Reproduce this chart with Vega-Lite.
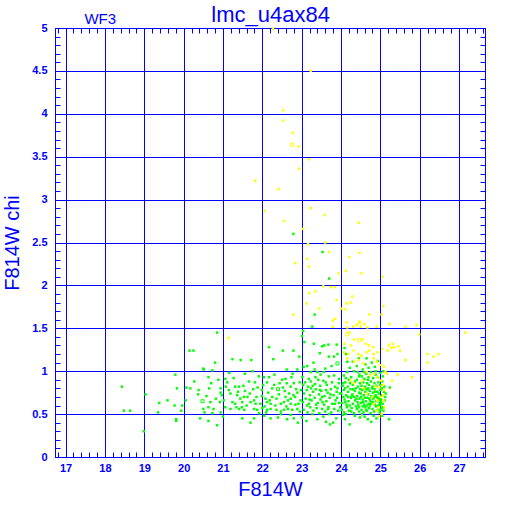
{
"$schema": "https://vega.github.io/schema/vega-lite/v6.json",
"width": 430, "height": 429,
"autosize": "none",
"padding": {"left": 55, "top": 28, "right": 27, "bottom": 55},
"background": "white",
"config": {"view": {"stroke": "#0000ff", "strokeWidth": 1}},
"datasets": {"pts": [
{"mag":20.15,"chi":1.24,"cls":"g"},{"mag":20.25,"chi":1.24,"cls":"g"},{"mag":20.50,"chi":1.03,"cls":"g"},{"mag":19.79,"chi":0.96,"cls":"g"},{"mag":20.27,"chi":0.88,"cls":"g"},{"mag":18.43,"chi":0.82,"cls":"g"},{"mag":19.83,"chi":0.80,"cls":"g"},{"mag":20.07,"chi":0.81,"cls":"g"},{"mag":20.17,"chi":0.80,"cls":"g"},{"mag":20.38,"chi":0.78,"cls":"g"},{"mag":20.37,"chi":0.73,"cls":"g"},{"mag":19.03,"chi":0.73,"cls":"g"},{"mag":20.48,"chi":0.65,"cls":"g","o":1},{"mag":20.05,"chi":0.66,"cls":"g"},{"mag":19.59,"chi":0.66,"cls":"g"},{"mag":19.38,"chi":0.63,"cls":"g"},{"mag":19.77,"chi":0.60,"cls":"g"},{"mag":19.96,"chi":0.60,"cls":"g"},{"mag":20.50,"chi":0.56,"cls":"g"},{"mag":19.94,"chi":0.54,"cls":"g"},{"mag":19.35,"chi":0.52,"cls":"g"},{"mag":18.48,"chi":0.54,"cls":"g"},{"mag":18.64,"chi":0.54,"cls":"g"},{"mag":20.42,"chi":0.45,"cls":"g"},{"mag":19.81,"chi":0.44,"cls":"g"},{"mag":19.81,"chi":0.42,"cls":"g"},{"mag":18.99,"chi":0.30,"cls":"g"},
{"mag":20.85,"chi":1.45,"cls":"g"},{"mag":22.17,"chi":1.28,"cls":"g"},{"mag":22.52,"chi":1.24,"cls":"g"},{"mag":22.79,"chi":1.24,"cls":"g"},{"mag":22.94,"chi":1.17,"cls":"g"},{"mag":20.80,"chi":1.10,"cls":"g"},{"mag":21.24,"chi":1.14,"cls":"g"},{"mag":21.45,"chi":1.13,"cls":"g"},{"mag":21.72,"chi":1.13,"cls":"g"},{"mag":22.28,"chi":1.14,"cls":"g"},{"mag":20.51,"chi":1.02,"cls":"g"},{"mag":20.73,"chi":1.01,"cls":"g"},{"mag":21.16,"chi":0.98,"cls":"g"},{"mag":21.56,"chi":0.97,"cls":"g"},{"mag":21.75,"chi":1.00,"cls":"g"},{"mag":21.91,"chi":0.94,"cls":"g"},{"mag":22.04,"chi":0.93,"cls":"g"},{"mag":22.17,"chi":0.93,"cls":"g"},{"mag":22.31,"chi":0.96,"cls":"g"},{"mag":22.62,"chi":1.02,"cls":"g"},{"mag":22.77,"chi":0.97,"cls":"g"},{"mag":22.89,"chi":1.02,"cls":"g"},{"mag":20.63,"chi":0.93,"cls":"g"},{"mag":21.06,"chi":0.91,"cls":"g"},{"mag":21.11,"chi":0.87,"cls":"g"},{"mag":21.81,"chi":0.87,"cls":"g"},{"mag":22.12,"chi":0.87,"cls":"g"},{"mag":22.59,"chi":0.91,"cls":"g"},{"mag":22.44,"chi":0.86,"cls":"g"},{"mag":22.62,"chi":0.86,"cls":"g"},{"mag":22.80,"chi":0.86,"cls":"g"},{"mag":22.95,"chi":0.87,"cls":"g"},{"mag":20.65,"chi":0.80,"cls":"g"},{"mag":20.94,"chi":0.80,"cls":"g"},{"mag":21.07,"chi":0.82,"cls":"g"},{"mag":21.31,"chi":0.82,"cls":"g"},{"mag":21.41,"chi":0.82,"cls":"g"},{"mag":21.56,"chi":0.77,"cls":"g"},{"mag":21.77,"chi":0.79,"cls":"g"},{"mag":21.99,"chi":0.78,"cls":"g"},{"mag":22.25,"chi":0.80,"cls":"g"},{"mag":22.40,"chi":0.79,"cls":"g","o":1},{"mag":22.52,"chi":0.81,"cls":"g"},{"mag":22.72,"chi":0.82,"cls":"g"},{"mag":22.89,"chi":0.75,"cls":"g"},{"mag":20.94,"chi":0.75,"cls":"g"},{"mag":20.97,"chi":0.72,"cls":"g"},{"mag":21.19,"chi":0.74,"cls":"g"},{"mag":21.36,"chi":0.72,"cls":"g"},{"mag":21.53,"chi":0.70,"cls":"g"},{"mag":21.62,"chi":0.70,"cls":"g"},{"mag":21.99,"chi":0.71,"cls":"g"},{"mag":22.08,"chi":0.68,"cls":"g"},{"mag":22.25,"chi":0.70,"cls":"g"},{"mag":22.36,"chi":0.68,"cls":"g"},{"mag":22.59,"chi":0.70,"cls":"g"},{"mag":22.72,"chi":0.68,"cls":"g"},{"mag":22.79,"chi":0.72,"cls":"g"},{"mag":20.68,"chi":0.64,"cls":"g"},{"mag":20.92,"chi":0.64,"cls":"g"},{"mag":21.24,"chi":0.64,"cls":"g"},{"mag":21.31,"chi":0.62,"cls":"g"},{"mag":21.44,"chi":0.68,"cls":"g"},{"mag":21.49,"chi":0.64,"cls":"g"},{"mag":21.70,"chi":0.64,"cls":"g"},{"mag":21.79,"chi":0.66,"cls":"g"},{"mag":21.83,"chi":0.62,"cls":"g"},{"mag":22.12,"chi":0.64,"cls":"g"},{"mag":22.21,"chi":0.62,"cls":"g"},{"mag":22.47,"chi":0.62,"cls":"g"},{"mag":22.55,"chi":0.64,"cls":"g"},{"mag":22.65,"chi":0.66,"cls":"g"},{"mag":22.72,"chi":0.62,"cls":"g"},{"mag":22.84,"chi":0.61,"cls":"g"},{"mag":22.92,"chi":0.62,"cls":"g"},{"mag":20.63,"chi":0.58,"cls":"g"},{"mag":20.76,"chi":0.56,"cls":"g"},{"mag":21.06,"chi":0.58,"cls":"g"},{"mag":21.19,"chi":0.56,"cls":"g"},{"mag":21.41,"chi":0.56,"cls":"g"},{"mag":21.48,"chi":0.58,"cls":"g"},{"mag":21.54,"chi":0.55,"cls":"g"},{"mag":21.79,"chi":0.56,"cls":"g"},{"mag":21.87,"chi":0.55,"cls":"g"},{"mag":22.00,"chi":0.57,"cls":"g"},{"mag":22.12,"chi":0.55,"cls":"g"},{"mag":22.21,"chi":0.56,"cls":"g"},{"mag":22.36,"chi":0.55,"cls":"g"},{"mag":22.47,"chi":0.53,"cls":"g"},{"mag":22.55,"chi":0.55,"cls":"g"},{"mag":22.65,"chi":0.56,"cls":"g"},{"mag":22.76,"chi":0.55,"cls":"g"},{"mag":22.89,"chi":0.56,"cls":"g"},{"mag":22.95,"chi":0.53,"cls":"g"},{"mag":20.53,"chi":0.52,"cls":"g"},{"mag":20.73,"chi":0.51,"cls":"g"},{"mag":20.94,"chi":0.52,"cls":"g"},{"mag":21.92,"chi":0.51,"cls":"g"},{"mag":22.10,"chi":0.52,"cls":"g"},{"mag":22.47,"chi":0.50,"cls":"g"},{"mag":22.72,"chi":0.49,"cls":"g"},{"mag":21.49,"chi":0.45,"cls":"g"},{"mag":21.79,"chi":0.45,"cls":"g"},{"mag":22.21,"chi":0.45,"cls":"g"},{"mag":22.40,"chi":0.46,"cls":"g"},{"mag":22.63,"chi":0.44,"cls":"g"},{"mag":22.80,"chi":0.45,"cls":"g"},{"mag":20.63,"chi":0.42,"cls":"g"},{"mag":20.85,"chi":0.37,"cls":"g"},
{"mag":20.58,"chi":0.71,"cls":"g"},{"mag":20.70,"chi":0.86,"cls":"g"},{"mag":20.82,"chi":0.68,"cls":"g"},{"mag":20.88,"chi":0.90,"cls":"g"},{"mag":21.02,"chi":0.66,"cls":"g"},{"mag":21.15,"chi":0.78,"cls":"g"},{"mag":21.27,"chi":0.92,"cls":"g"},{"mag":21.34,"chi":0.58,"cls":"g"},{"mag":21.38,"chi":0.76,"cls":"g"},{"mag":21.52,"chi":0.83,"cls":"g"},{"mag":21.60,"chi":0.60,"cls":"g"},{"mag":21.66,"chi":0.88,"cls":"g"},{"mag":21.68,"chi":0.74,"cls":"g"},{"mag":21.85,"chi":0.70,"cls":"g"},{"mag":21.88,"chi":0.81,"cls":"g"},{"mag":21.95,"chi":0.62,"cls":"g"},{"mag":22.02,"chi":0.84,"cls":"g"},{"mag":22.06,"chi":0.59,"cls":"g"},{"mag":22.15,"chi":0.75,"cls":"g"},{"mag":22.19,"chi":0.66,"cls":"g"},{"mag":22.30,"chi":0.84,"cls":"g"},{"mag":22.33,"chi":0.60,"cls":"g"},{"mag":22.42,"chi":0.73,"cls":"g"},{"mag":22.50,"chi":0.90,"cls":"g"},{"mag":22.57,"chi":0.77,"cls":"g"},{"mag":22.61,"chi":0.59,"cls":"g"},{"mag":22.68,"chi":0.74,"cls":"g"},{"mag":22.74,"chi":0.93,"cls":"g"},{"mag":22.83,"chi":0.70,"cls":"g"},{"mag":22.86,"chi":0.79,"cls":"g"},{"mag":22.97,"chi":0.66,"cls":"g"},{"mag":22.98,"chi":0.78,"cls":"g"},{"mag":21.00,"chi":0.47,"cls":"g"},{"mag":21.70,"chi":0.40,"cls":"g"},{"mag":22.05,"chi":0.48,"cls":"g"},{"mag":22.90,"chi":0.40,"cls":"g"},
{"mag":22.79,"chi":2.60,"cls":"g"},{"mag":23.53,"chi":2.39,"cls":"g"},{"mag":23.70,"chi":2.08,"cls":"g"},{"mag":23.33,"chi":1.66,"cls":"g"},
{"mag":23.01,"chi":0.46,"cls":"g"},{"mag":23.12,"chi":0.42,"cls":"g"},{"mag":23.40,"chi":0.44,"cls":"g"},{"mag":23.55,"chi":0.47,"cls":"g"},{"mag":23.72,"chi":0.38,"cls":"g"},{"mag":23.80,"chi":0.40,"cls":"g"},{"mag":23.88,"chi":0.45,"cls":"g"},{"mag":23.62,"chi":0.41,"cls":"g"},
{"mag":23.05,"chi":0.55,"cls":"g"},{"mag":23.15,"chi":0.52,"cls":"g"},{"mag":23.22,"chi":0.58,"cls":"g"},{"mag":23.30,"chi":0.54,"cls":"g"},{"mag":23.38,"chi":0.57,"cls":"g"},{"mag":23.45,"chi":0.51,"cls":"g"},{"mag":23.52,"chi":0.56,"cls":"g"},{"mag":23.60,"chi":0.53,"cls":"g"},{"mag":23.68,"chi":0.58,"cls":"g"},{"mag":23.75,"chi":0.52,"cls":"g"},{"mag":23.83,"chi":0.56,"cls":"g"},{"mag":23.93,"chi":0.54,"cls":"g"},{"mag":23.27,"chi":0.50,"cls":"g"},{"mag":23.70,"chi":0.50,"cls":"g"},
{"mag":23.03,"chi":0.64,"cls":"g"},{"mag":23.10,"chi":0.68,"cls":"g"},{"mag":23.18,"chi":0.62,"cls":"g"},{"mag":23.25,"chi":0.66,"cls":"g"},{"mag":23.33,"chi":0.69,"cls":"g"},{"mag":23.41,"chi":0.63,"cls":"g"},{"mag":23.48,"chi":0.67,"cls":"g"},{"mag":23.57,"chi":0.61,"cls":"g"},{"mag":23.63,"chi":0.65,"cls":"g"},{"mag":23.71,"chi":0.69,"cls":"g"},{"mag":23.78,"chi":0.62,"cls":"g"},{"mag":23.86,"chi":0.66,"cls":"g"},{"mag":23.95,"chi":0.63,"cls":"g"},{"mag":23.14,"chi":0.60,"cls":"g"},{"mag":23.52,"chi":0.70,"cls":"g"},{"mag":23.90,"chi":0.69,"cls":"g"},
{"mag":23.06,"chi":0.74,"cls":"g"},{"mag":23.13,"chi":0.78,"cls":"g"},{"mag":23.21,"chi":0.72,"cls":"g"},{"mag":23.29,"chi":0.76,"cls":"g"},{"mag":23.36,"chi":0.79,"cls":"g"},{"mag":23.44,"chi":0.73,"cls":"g"},{"mag":23.50,"chi":0.77,"cls":"g"},{"mag":23.58,"chi":0.71,"cls":"g"},{"mag":23.66,"chi":0.75,"cls":"g"},{"mag":23.74,"chi":0.79,"cls":"g"},{"mag":23.81,"chi":0.72,"cls":"g"},{"mag":23.89,"chi":0.76,"cls":"g"},{"mag":23.97,"chi":0.74,"cls":"g"},{"mag":23.24,"chi":0.80,"cls":"g"},{"mag":23.62,"chi":0.78,"cls":"g"},
{"mag":23.04,"chi":0.84,"cls":"g"},{"mag":23.16,"chi":0.82,"cls":"g"},{"mag":23.23,"chi":0.88,"cls":"g"},{"mag":23.34,"chi":0.85,"cls":"g"},{"mag":23.47,"chi":0.83,"cls":"g"},{"mag":23.55,"chi":0.89,"cls":"g"},{"mag":23.64,"chi":0.84,"cls":"g"},{"mag":23.77,"chi":0.87,"cls":"g"},{"mag":23.85,"chi":0.82,"cls":"g"},{"mag":23.94,"chi":0.86,"cls":"g"},{"mag":23.42,"chi":0.90,"cls":"g"},
{"mag":23.02,"chi":0.93,"cls":"g"},{"mag":23.18,"chi":0.91,"cls":"g"},{"mag":23.23,"chi":0.99,"cls":"g"},{"mag":23.35,"chi":0.93,"cls":"g"},{"mag":23.40,"chi":0.99,"cls":"g"},{"mag":23.56,"chi":0.99,"cls":"g"},{"mag":23.69,"chi":0.94,"cls":"g"},{"mag":23.82,"chi":0.95,"cls":"g"},{"mag":23.95,"chi":0.91,"cls":"g"},{"mag":23.48,"chi":0.96,"cls":"g"},
{"mag":23.05,"chi":1.05,"cls":"g"},{"mag":23.14,"chi":1.06,"cls":"g"},{"mag":23.30,"chi":1.10,"cls":"g"},{"mag":23.69,"chi":1.17,"cls":"g"},{"mag":23.82,"chi":1.17,"cls":"g"},{"mag":23.91,"chi":1.09,"cls":"g","o":1},{"mag":23.91,"chi":1.20,"cls":"g"},{"mag":23.46,"chi":1.21,"cls":"g"},{"mag":23.60,"chi":1.03,"cls":"g"},
{"mag":23.04,"chi":1.47,"cls":"g"},{"mag":23.01,"chi":1.41,"cls":"g"},{"mag":23.07,"chi":1.34,"cls":"g"},{"mag":23.31,"chi":1.32,"cls":"g"},{"mag":23.27,"chi":1.52,"cls":"g"},{"mag":23.52,"chi":1.29,"cls":"g"},{"mag":23.57,"chi":1.30,"cls":"g"},{"mag":23.68,"chi":1.31,"cls":"g"},{"mag":23.89,"chi":1.31,"cls":"g"},
{"mag":23.09,"chi":0.87,"cls":"g"},{"mag":23.20,"chi":0.67,"cls":"g"},{"mag":23.28,"chi":0.83,"cls":"g"},{"mag":23.37,"chi":0.61,"cls":"g"},{"mag":23.46,"chi":0.78,"cls":"g"},{"mag":23.53,"chi":0.64,"cls":"g"},{"mag":23.61,"chi":0.87,"cls":"g"},{"mag":23.67,"chi":0.56,"cls":"g"},{"mag":23.73,"chi":0.73,"cls":"g"},{"mag":23.84,"chi":0.62,"cls":"g"},{"mag":23.91,"chi":0.80,"cls":"g"},{"mag":23.98,"chi":0.58,"cls":"g"},{"mag":24.05,"chi":0.86,"cls":"g"},{"mag":24.11,"chi":0.64,"cls":"g"},{"mag":24.18,"chi":0.70,"cls":"g"},{"mag":24.26,"chi":0.53,"cls":"g"},{"mag":24.31,"chi":0.79,"cls":"g"},{"mag":24.39,"chi":0.68,"cls":"g"},{"mag":24.45,"chi":0.58,"cls":"g"},{"mag":24.51,"chi":0.70,"cls":"g"},{"mag":24.56,"chi":0.64,"cls":"g"},{"mag":24.61,"chi":0.69,"cls":"g"},{"mag":24.64,"chi":0.55,"cls":"g"},{"mag":24.69,"chi":0.80,"cls":"g"},{"mag":24.72,"chi":0.68,"cls":"g"},{"mag":24.75,"chi":0.62,"cls":"g"},{"mag":24.81,"chi":0.64,"cls":"g"},{"mag":24.87,"chi":0.76,"cls":"g"},{"mag":24.91,"chi":0.70,"cls":"g"},{"mag":24.97,"chi":0.67,"cls":"g"},{"mag":25.01,"chi":0.64,"cls":"g"},{"mag":25.04,"chi":0.80,"cls":"g"},{"mag":25.07,"chi":0.58,"cls":"g"},{"mag":25.12,"chi":0.70,"cls":"g"},{"mag":24.53,"chi":0.50,"cls":"g"},{"mag":24.83,"chi":0.48,"cls":"g"},{"mag":25.00,"chi":0.55,"cls":"g"},{"mag":24.47,"chi":0.96,"cls":"g"},{"mag":24.88,"chi":1.00,"cls":"g"},{"mag":23.33,"chi":1.02,"cls":"g"},{"mag":23.76,"chi":1.06,"cls":"g"},
{"mag":24.22,"chi":0.38,"cls":"g"},{"mag":24.48,"chi":0.46,"cls":"g"},{"mag":24.10,"chi":0.44,"cls":"g"},{"mag":24.35,"chi":0.48,"cls":"g"},{"mag":24.05,"chi":0.49,"cls":"g"},
{"mag":24.02,"chi":0.55,"cls":"g"},{"mag":24.08,"chi":0.52,"cls":"g"},{"mag":24.15,"chi":0.58,"cls":"g"},{"mag":24.20,"chi":0.54,"cls":"g"},{"mag":24.27,"chi":0.57,"cls":"g"},{"mag":24.33,"chi":0.51,"cls":"g"},{"mag":24.40,"chi":0.56,"cls":"g"},{"mag":24.46,"chi":0.53,"cls":"g"},{"mag":24.12,"chi":0.50,"cls":"g"},{"mag":24.38,"chi":0.59,"cls":"g"},
{"mag":24.03,"chi":0.63,"cls":"g"},{"mag":24.09,"chi":0.67,"cls":"g"},{"mag":24.14,"chi":0.61,"cls":"g"},{"mag":24.19,"chi":0.65,"cls":"g"},{"mag":24.25,"chi":0.69,"cls":"g"},{"mag":24.30,"chi":0.62,"cls":"g"},{"mag":24.36,"chi":0.66,"cls":"g"},{"mag":24.42,"chi":0.64,"cls":"g"},{"mag":24.47,"chi":0.68,"cls":"g"},{"mag":24.06,"chi":0.70,"cls":"g"},{"mag":24.22,"chi":0.60,"cls":"g"},{"mag":24.33,"chi":0.70,"cls":"g"},{"mag":24.44,"chi":0.61,"cls":"g"},
{"mag":24.01,"chi":0.74,"cls":"g"},{"mag":24.07,"chi":0.78,"cls":"g"},{"mag":24.13,"chi":0.72,"cls":"g"},{"mag":24.18,"chi":0.76,"cls":"g"},{"mag":24.24,"chi":0.79,"cls":"g"},{"mag":24.29,"chi":0.73,"cls":"g"},{"mag":24.35,"chi":0.77,"cls":"g"},{"mag":24.41,"chi":0.71,"cls":"g"},{"mag":24.46,"chi":0.75,"cls":"g"},{"mag":24.10,"chi":0.80,"cls":"g"},{"mag":24.27,"chi":0.71,"cls":"g"},{"mag":24.38,"chi":0.80,"cls":"g"},{"mag":24.49,"chi":0.79,"cls":"g"},
{"mag":24.04,"chi":0.83,"cls":"g"},{"mag":24.11,"chi":0.87,"cls":"g"},{"mag":24.17,"chi":0.82,"cls":"g"},{"mag":24.23,"chi":0.86,"cls":"g"},{"mag":24.30,"chi":0.84,"cls":"g"},{"mag":24.36,"chi":0.88,"cls":"g"},{"mag":24.43,"chi":0.82,"cls":"g"},{"mag":24.48,"chi":0.86,"cls":"g"},{"mag":24.20,"chi":0.90,"cls":"g"},{"mag":24.40,"chi":0.90,"cls":"g"},
{"mag":24.07,"chi":0.95,"cls":"g"},{"mag":24.16,"chi":0.99,"cls":"g"},{"mag":24.26,"chi":0.93,"cls":"g"},{"mag":24.33,"chi":1.00,"cls":"g"},{"mag":24.42,"chi":0.99,"cls":"g"},{"mag":24.12,"chi":0.92,"cls":"g"},{"mag":24.46,"chi":0.94,"cls":"g"},
{"mag":24.16,"chi":1.11,"cls":"g"},{"mag":24.30,"chi":1.11,"cls":"g"},{"mag":24.40,"chi":1.06,"cls":"g"},{"mag":24.13,"chi":1.20,"cls":"g"},{"mag":24.09,"chi":1.27,"cls":"g"},{"mag":24.22,"chi":1.04,"cls":"g"},{"mag":24.45,"chi":1.15,"cls":"g"},
{"mag":24.77,"chi":0.41,"cls":"g"},{"mag":24.60,"chi":0.47,"cls":"g"},{"mag":24.90,"chi":0.45,"cls":"g"},{"mag":25.05,"chi":0.48,"cls":"g"},{"mag":24.68,"chi":0.44,"cls":"g"},{"mag":25.22,"chi":0.44,"cls":"g"},
{"mag":24.52,"chi":0.55,"cls":"g"},{"mag":24.57,"chi":0.52,"cls":"g"},{"mag":24.62,"chi":0.58,"cls":"g"},{"mag":24.66,"chi":0.54,"cls":"g"},{"mag":24.71,"chi":0.57,"cls":"g"},{"mag":24.75,"chi":0.51,"cls":"g"},{"mag":24.80,"chi":0.56,"cls":"g"},{"mag":24.84,"chi":0.53,"cls":"g"},{"mag":24.89,"chi":0.59,"cls":"g"},{"mag":24.93,"chi":0.55,"cls":"g"},{"mag":24.98,"chi":0.52,"cls":"g"},{"mag":25.03,"chi":0.57,"cls":"g"},{"mag":25.08,"chi":0.54,"cls":"g"},{"mag":24.55,"chi":0.59,"cls":"g"},{"mag":24.73,"chi":0.60,"cls":"g"},{"mag":24.95,"chi":0.60,"cls":"g"},
{"mag":24.51,"chi":0.63,"cls":"g"},{"mag":24.55,"chi":0.67,"cls":"g"},{"mag":24.59,"chi":0.61,"cls":"g"},{"mag":24.63,"chi":0.65,"cls":"g"},{"mag":24.67,"chi":0.69,"cls":"g"},{"mag":24.70,"chi":0.62,"cls":"g"},{"mag":24.74,"chi":0.66,"cls":"g"},{"mag":24.78,"chi":0.64,"cls":"g"},{"mag":24.82,"chi":0.68,"cls":"g"},{"mag":24.86,"chi":0.61,"cls":"g"},{"mag":24.90,"chi":0.65,"cls":"g"},{"mag":24.94,"chi":0.69,"cls":"g"},{"mag":24.98,"chi":0.63,"cls":"g"},{"mag":25.02,"chi":0.67,"cls":"g"},{"mag":25.06,"chi":0.62,"cls":"g"},{"mag":25.11,"chi":0.66,"cls":"g"},{"mag":24.65,"chi":0.60,"cls":"g"},{"mag":24.85,"chi":0.70,"cls":"g"},{"mag":25.00,"chi":0.60,"cls":"g"},
{"mag":24.50,"chi":0.74,"cls":"g"},{"mag":24.54,"chi":0.78,"cls":"g"},{"mag":24.58,"chi":0.72,"cls":"g"},{"mag":24.62,"chi":0.76,"cls":"g"},{"mag":24.66,"chi":0.79,"cls":"g"},{"mag":24.69,"chi":0.73,"cls":"g"},{"mag":24.73,"chi":0.77,"cls":"g"},{"mag":24.77,"chi":0.71,"cls":"g"},{"mag":24.81,"chi":0.75,"cls":"g"},{"mag":24.85,"chi":0.79,"cls":"g"},{"mag":24.88,"chi":0.72,"cls":"g"},{"mag":24.92,"chi":0.76,"cls":"g"},{"mag":24.96,"chi":0.74,"cls":"g"},{"mag":25.00,"chi":0.78,"cls":"g"},{"mag":25.04,"chi":0.72,"cls":"g"},{"mag":25.09,"chi":0.76,"cls":"g"},{"mag":25.14,"chi":0.74,"cls":"g"},{"mag":24.60,"chi":0.80,"cls":"g"},{"mag":24.79,"chi":0.80,"cls":"g"},
{"mag":24.52,"chi":0.83,"cls":"g"},{"mag":24.57,"chi":0.87,"cls":"g"},{"mag":24.61,"chi":0.82,"cls":"g"},{"mag":24.66,"chi":0.86,"cls":"g"},{"mag":24.71,"chi":0.84,"cls":"g"},{"mag":24.76,"chi":0.88,"cls":"g"},{"mag":24.80,"chi":0.82,"cls":"g"},{"mag":24.85,"chi":0.86,"cls":"g"},{"mag":24.90,"chi":0.83,"cls":"g"},{"mag":24.95,"chi":0.87,"cls":"g"},{"mag":25.00,"chi":0.84,"cls":"g"},{"mag":25.05,"chi":0.88,"cls":"g"},{"mag":25.10,"chi":0.82,"cls":"g"},{"mag":25.24,"chi":0.81,"cls":"g"},{"mag":24.68,"chi":0.90,"cls":"g"},
{"mag":24.53,"chi":0.94,"cls":"g"},{"mag":24.59,"chi":0.91,"cls":"g"},{"mag":24.64,"chi":0.97,"cls":"g"},{"mag":24.70,"chi":0.93,"cls":"g"},{"mag":24.76,"chi":0.99,"cls":"g"},{"mag":24.82,"chi":0.92,"cls":"g"},{"mag":24.88,"chi":0.96,"cls":"g"},{"mag":24.94,"chi":0.93,"cls":"g"},{"mag":25.00,"chi":0.98,"cls":"g"},{"mag":25.06,"chi":0.94,"cls":"g"},
{"mag":24.55,"chi":1.02,"cls":"g"},{"mag":24.62,"chi":1.08,"cls":"g"},{"mag":24.70,"chi":1.04,"cls":"g"},{"mag":24.78,"chi":1.10,"cls":"g"},{"mag":24.86,"chi":1.05,"cls":"g"},{"mag":24.94,"chi":1.12,"cls":"g"},{"mag":25.08,"chi":1.00,"cls":"g"},{"mag":24.65,"chi":1.15,"cls":"g"},{"mag":24.58,"chi":0.99,"cls":"g"},
{"mag":22.27,"chi":4.99,"cls":"y"},{"mag":23.23,"chi":4.50,"cls":"y"},{"mag":22.53,"chi":4.04,"cls":"y"},{"mag":22.53,"chi":3.92,"cls":"y"},{"mag":22.77,"chi":3.78,"cls":"y"},{"mag":22.75,"chi":3.64,"cls":"y","o":1},{"mag":22.92,"chi":3.62,"cls":"y"},{"mag":23.18,"chi":3.47,"cls":"y"},{"mag":22.93,"chi":3.36,"cls":"y"},{"mag":21.82,"chi":3.22,"cls":"y"},{"mag":22.41,"chi":3.12,"cls":"y"},{"mag":23.23,"chi":2.90,"cls":"y"},{"mag":23.58,"chi":2.82,"cls":"y"},{"mag":22.06,"chi":2.87,"cls":"y"},{"mag":22.56,"chi":2.75,"cls":"y"},{"mag":24.45,"chi":2.73,"cls":"y"},{"mag":23.04,"chi":2.66,"cls":"y"},{"mag":23.16,"chi":2.48,"cls":"y"},{"mag":23.60,"chi":2.50,"cls":"y"},{"mag":23.70,"chi":2.39,"cls":"y"},{"mag":24.47,"chi":2.38,"cls":"y"},{"mag":24.21,"chi":2.33,"cls":"y"},{"mag":22.84,"chi":2.26,"cls":"y"},{"mag":23.14,"chi":2.31,"cls":"y"},{"mag":23.18,"chi":2.22,"cls":"y"},{"mag":23.94,"chi":2.14,"cls":"y"},{"mag":24.12,"chi":2.17,"cls":"y"},{"mag":24.52,"chi":2.14,"cls":"y"},{"mag":25.06,"chi":2.10,"cls":"y"},{"mag":23.55,"chi":1.99,"cls":"y"},{"mag":23.74,"chi":1.98,"cls":"y"},{"mag":23.84,"chi":1.98,"cls":"y"},{"mag":23.19,"chi":1.91,"cls":"y"},{"mag":23.35,"chi":1.93,"cls":"y"},{"mag":24.29,"chi":1.87,"cls":"y"},{"mag":23.89,"chi":1.83,"cls":"y"},{"mag":23.12,"chi":1.79,"cls":"y"},{"mag":24.14,"chi":1.79,"cls":"y"},{"mag":24.24,"chi":1.80,"cls":"y"},{"mag":25.08,"chi":1.76,"cls":"y"},{"mag":23.45,"chi":1.73,"cls":"y"},{"mag":24.01,"chi":1.73,"cls":"y"},{"mag":24.11,"chi":1.72,"cls":"y"},{"mag":22.79,"chi":1.66,"cls":"y"},{"mag":24.72,"chi":1.66,"cls":"y"},{"mag":25.03,"chi":1.66,"cls":"y"},{"mag":23.85,"chi":1.61,"cls":"y"},{"mag":23.79,"chi":1.59,"cls":"y"},{"mag":24.14,"chi":1.57,"cls":"y"},{"mag":24.47,"chi":1.58,"cls":"y"},{"mag":24.48,"chi":1.56,"cls":"y"},{"mag":24.60,"chi":1.55,"cls":"y"},{"mag":25.23,"chi":1.55,"cls":"y"},{"mag":25.64,"chi":1.52,"cls":"y"},{"mag":25.92,"chi":1.54,"cls":"y"},{"mag":23.79,"chi":1.52,"cls":"y"},{"mag":24.16,"chi":1.51,"cls":"y"},{"mag":24.31,"chi":1.52,"cls":"y"},{"mag":24.40,"chi":1.54,"cls":"y"},{"mag":24.50,"chi":1.52,"cls":"y"},{"mag":24.67,"chi":1.51,"cls":"y"},{"mag":24.91,"chi":1.52,"cls":"y"},{"mag":25.99,"chi":1.43,"cls":"y"},{"mag":27.16,"chi":1.45,"cls":"y"},{"mag":21.14,"chi":1.39,"cls":"y"},
{"mag":24.16,"chi":1.43,"cls":"y","o":1},{"mag":24.22,"chi":1.45,"cls":"y"},{"mag":24.46,"chi":1.36,"cls":"y","o":1},{"mag":24.33,"chi":1.37,"cls":"y"},{"mag":24.55,"chi":1.37,"cls":"y"},{"mag":24.09,"chi":1.32,"cls":"y"},{"mag":24.25,"chi":1.30,"cls":"y"},{"mag":24.63,"chi":1.32,"cls":"y"},{"mag":24.71,"chi":1.30,"cls":"y"},{"mag":24.82,"chi":1.28,"cls":"y"},{"mag":24.07,"chi":1.22,"cls":"y"},{"mag":24.19,"chi":1.20,"cls":"y"},{"mag":24.32,"chi":1.24,"cls":"y"},{"mag":24.44,"chi":1.20,"cls":"y"},{"mag":24.52,"chi":1.18,"cls":"y"},{"mag":24.65,"chi":1.22,"cls":"y"},{"mag":24.72,"chi":1.24,"cls":"y"},{"mag":24.83,"chi":1.20,"cls":"y"},{"mag":24.93,"chi":1.22,"cls":"y"},{"mag":25.05,"chi":1.26,"cls":"y"},{"mag":25.22,"chi":1.30,"cls":"y"},{"mag":25.35,"chi":1.28,"cls":"y"},{"mag":25.19,"chi":1.24,"cls":"y"},{"mag":24.16,"chi":1.15,"cls":"y"},{"mag":24.33,"chi":1.11,"cls":"y"},{"mag":24.45,"chi":1.13,"cls":"y"},{"mag":24.58,"chi":1.09,"cls":"y"},{"mag":24.83,"chi":1.15,"cls":"y"},{"mag":24.91,"chi":1.11,"cls":"y"},{"mag":25.00,"chi":1.07,"cls":"y"},{"mag":25.09,"chi":1.05,"cls":"y"},{"mag":25.13,"chi":0.99,"cls":"y"},{"mag":25.17,"chi":0.97,"cls":"y"},{"mag":25.30,"chi":0.89,"cls":"y"},{"mag":24.24,"chi":0.89,"cls":"y"},{"mag":24.33,"chi":0.86,"cls":"y"},{"mag":24.54,"chi":0.89,"cls":"y"},{"mag":24.65,"chi":0.99,"cls":"y"},{"mag":24.74,"chi":0.95,"cls":"y"},{"mag":24.84,"chi":0.97,"cls":"y"},{"mag":24.93,"chi":0.93,"cls":"y"},{"mag":25.02,"chi":0.89,"cls":"y"},{"mag":25.06,"chi":0.84,"cls":"y"},{"mag":24.58,"chi":0.80,"cls":"y"},{"mag":24.66,"chi":0.74,"cls":"y"},{"mag":24.79,"chi":0.70,"cls":"y"},{"mag":24.92,"chi":0.66,"cls":"y"},{"mag":25.00,"chi":0.70,"cls":"y"},{"mag":24.96,"chi":0.58,"cls":"y"},{"mag":24.83,"chi":0.62,"cls":"y"},{"mag":24.92,"chi":0.54,"cls":"y"},{"mag":24.88,"chi":0.82,"cls":"y"},{"mag":25.31,"chi":1.32,"cls":"y"},{"mag":25.28,"chi":1.27,"cls":"y"},{"mag":25.46,"chi":1.29,"cls":"y"},{"mag":25.50,"chi":1.24,"cls":"y"},{"mag":25.64,"chi":1.13,"cls":"y"},{"mag":26.20,"chi":1.20,"cls":"y"},{"mag":26.35,"chi":1.17,"cls":"y"},{"mag":26.48,"chi":1.20,"cls":"y"},{"mag":26.20,"chi":1.10,"cls":"y"},{"mag":25.44,"chi":0.96,"cls":"y"},{"mag":25.81,"chi":0.93,"cls":"y"},{"mag":25.07,"chi":0.72,"cls":"y"},{"mag":25.10,"chi":0.58,"cls":"y"},{"mag":25.03,"chi":0.50,"cls":"y"},{"mag":24.97,"chi":0.47,"cls":"y"},{"mag":25.08,"chi":0.66,"cls":"y"},{"mag":25.10,"chi":0.78,"cls":"y"},{"mag":24.98,"chi":0.81,"cls":"y"}
]},
"layer": [
{"data": {"name": "pts"}, "transform": [{"filter": "datum.o != 1"}],
 "mark": {"type": "point", "shape": "square", "filled": true, "size": 6, "opacity": 1, "strokeWidth": 0},
 "encoding": {
  "x": {"field": "mag", "type": "quantitative", "scale": {"domain": [16.73, 27.66], "nice": false, "zero": false},
   "axis": {"orient": "bottom", "values": [16.8,17,17.2,17.4,17.6,17.8,18,18.2,18.4,18.6,18.8,19,19.2,19.4,19.6,19.8,20,20.2,20.4,20.6,20.8,21,21.2,21.4,21.6,21.8,22,22.2,22.4,22.6,22.8,23,23.2,23.4,23.6,23.8,24,24.2,24.4,24.6,24.8,25,25.2,25.4,25.6,25.8,26,26.2,26.4,26.6,26.8,27,27.2,27.4,27.6],
    "format": "~g", "labelExpr": "abs(datum.value - round(datum.value)) < 0.001 ? datum.label : ''",
    "labelFont": "Liberation Sans", "labelFontSize": 11, "labelFontWeight": "bold", "labelColor": "#0000ff", "labelPadding": 10, "labelOverlap": false, "labelFlush": false, "labelBound": false,
    "tickSize": -5, "tickColor": "#0000ff", "tickWidth": 1,
    "grid": true, "gridColor": "#0000ff", "gridWidth": 1, "gridOpacity": {"condition": {"test": "abs(datum.value - round(datum.value)) < 0.001", "value": 1}, "value": 0},
    "domain": false, "title": "F814W", "titleFont": "Liberation Sans", "titleFontSize": 20, "titleFontWeight": "normal", "titleColor": "#0000ff", "titlePadding": 6}},
  "y": {"field": "chi", "type": "quantitative", "scale": {"domain": [0, 5], "nice": false, "zero": false},
   "axis": {"orient": "left", "values": [0,0.1,0.2,0.3,0.4,0.5,0.6,0.7,0.8,0.9,1,1.1,1.2,1.3,1.4,1.5,1.6,1.7,1.8,1.9,2,2.1,2.2,2.3,2.4,2.5,2.6,2.7,2.8,2.9,3,3.1,3.2,3.3,3.4,3.5,3.6,3.7,3.8,3.9,4,4.1,4.2,4.3,4.4,4.5,4.6,4.7,4.8,4.9,5],
    "format": "~g", "labelExpr": "abs(datum.value*2 - round(datum.value*2)) < 0.001 ? datum.label : ''",
    "labelFont": "Liberation Sans", "labelFontSize": 11, "labelFontWeight": "bold", "labelColor": "#0000ff", "labelPadding": 13, "labelOverlap": false, "labelFlush": false, "labelBound": false,
    "tickSize": -5, "tickColor": "#0000ff", "tickWidth": 1,
    "grid": true, "gridColor": "#0000ff", "gridWidth": 1, "gridOpacity": {"condition": {"test": "abs(datum.value*2 - round(datum.value*2)) < 0.001", "value": 1}, "value": 0},
    "domain": false, "title": "F814W chi", "titleFont": "Liberation Sans", "titleFontSize": 20, "titleFontWeight": "normal", "titleColor": "#0000ff", "titlePadding": 9}},
  "color": {"field": "cls", "type": "nominal", "scale": {"domain": ["g", "y"], "range": ["#00ff00", "#ffff00"]}, "legend": null}
 }},
{"data": {"name": "pts"}, "transform": [{"filter": "datum.o == 1"}],
 "mark": {"type": "point", "shape": "square", "filled": false, "size": 9, "opacity": 1, "strokeWidth": 1},
 "encoding": {
  "x": {"field": "mag", "type": "quantitative",
   "axis": {"orient": "top", "values": [16.8,17,17.2,17.4,17.6,17.8,18,18.2,18.4,18.6,18.8,19,19.2,19.4,19.6,19.8,20,20.2,20.4,20.6,20.8,21,21.2,21.4,21.6,21.8,22,22.2,22.4,22.6,22.8,23,23.2,23.4,23.6,23.8,24,24.2,24.4,24.6,24.8,25,25.2,25.4,25.6,25.8,26,26.2,26.4,26.6,26.8,27,27.2,27.4,27.6],
    "labels": false, "tickSize": -5, "tickColor": "#0000ff", "tickWidth": 1, "grid": false, "domain": false, "title": null}},
  "y": {"field": "chi", "type": "quantitative",
   "axis": {"orient": "right", "values": [0,0.1,0.2,0.3,0.4,0.5,0.6,0.7,0.8,0.9,1,1.1,1.2,1.3,1.4,1.5,1.6,1.7,1.8,1.9,2,2.1,2.2,2.3,2.4,2.5,2.6,2.7,2.8,2.9,3,3.1,3.2,3.3,3.4,3.5,3.6,3.7,3.8,3.9,4,4.1,4.2,4.3,4.4,4.5,4.6,4.7,4.8,4.9,5],
    "labels": false, "tickSize": -5, "tickColor": "#0000ff", "tickWidth": 1, "grid": false, "domain": false, "title": null}},
  "color": {"field": "cls", "type": "nominal", "legend": null}
 }},
{"data": {"values": [{"t": "WF3", "xm": 17.88, "yc": 5.11, "fs": "s"}, {"t": "lmc_u4ax84", "xm": 22.21, "yc": 5.15, "fs": "l"}]},
 "mark": {"type": "text", "font": "Liberation Sans", "color": "#0000ff", "baseline": "middle", "align": "center", "clip": false},
 "encoding": {
  "x": {"field": "xm", "type": "quantitative", "axis": null},
  "y": {"field": "yc", "type": "quantitative", "axis": null},
  "text": {"field": "t"},
  "size": {"field": "fs", "type": "nominal", "scale": {"domain": ["s", "l"], "range": [15, 22]}, "legend": null}
 }}
],
"resolve": {"axis": {"x": "independent", "y": "independent"}}
}
